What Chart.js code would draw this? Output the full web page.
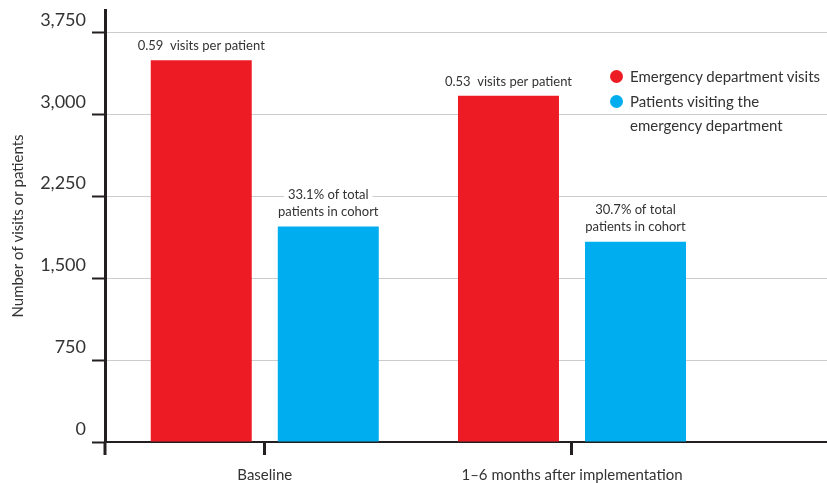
<!DOCTYPE html>
<html>
<head>
<meta charset="utf-8">
<script src="https://cdn.jsdelivr.net/npm/chart.js@4"></script>
<style>
  body { margin: 0; background: #fff; }
  .wrap { position: relative; width: 827px; height: 483px; }
  .legend { position: absolute; left: 608px; top: 64px; font: 15px Lato, sans-serif; color: #333; line-height: 24.5px; white-space: nowrap; }
  .legend .item { position: relative; padding-left: 22px; }
  .legend .dot { position: absolute; left: 2px; top: 6px; width: 13px; height: 13px; border-radius: 50%; }
</style>
</head>
<body>
<div class="wrap">
  <canvas id="chart" width="827" height="483"></canvas>
  <div class="legend" id="legend"></div>
</div>
<script>
const categories = ['Baseline', '1–6 months after implementation'];
const edVisits = [3500, 3175];
const edPatients = [1975, 1835];
const visitNotes = ['0.59  visits per patient', '0.53  visits per patient'];
const patientNotes = [['33.1% of total', 'patients in cohort'], ['30.7% of total', 'patients in cohort']];
const seriesNames = ['Emergency department visits', ['Patients visiting the', 'emergency department']];
const yTicks = [0, 750, 1500, 2250, 3000, 3750];

const RED = '#ed1c24';
const BLUE = '#00aeef';
const INK = '#231f20';
const FONT = 'Lato, sans-serif';

// labels above the bars, plus the little stub of the y axis below the x axis
const notesPlugin = {
  id: 'notes',
  afterDatasetsDraw(chart) {
    const ctx = chart.ctx;
    ctx.save();
    ctx.font = '13px ' + FONT;
    ctx.textAlign = 'center';
    ctx.textBaseline = 'middle';
    chart.getDatasetMeta(0).data.forEach((bar, i) => {
      ctx.fillStyle = '#333';
      ctx.fillText(visitNotes[i], bar.x, bar.y - 14);
    });
    chart.getDatasetMeta(1).data.forEach((bar, i) => {
      const lines = patientNotes[i];
      lines.forEach((line, j) => {
        const y = bar.y - 15 - (lines.length - 1 - j) * 17;
        const w = ctx.measureText(line).width;
        ctx.fillStyle = '#fff';
        ctx.fillRect(bar.x - w / 2 - 4, y - 8, w + 8, 16);
        ctx.fillStyle = '#333';
        ctx.fillText(line, bar.x, y);
      });
    });
    const a = chart.chartArea;
    ctx.strokeStyle = INK;
    ctx.lineWidth = 3;
    ctx.beginPath();
    ctx.moveTo(a.left, a.bottom);
    ctx.lineTo(a.left, a.bottom + 13);
    ctx.stroke();
    ctx.restore();
  }
};

const chart = new Chart(document.getElementById('chart'), {
  type: 'bar',
  data: {
    datasets: [
      {
        label: seriesNames[0],
        data: edVisits.map((v, i) => ({ x: i, y: v })),
        backgroundColor: RED
      },
      {
        label: seriesNames[1],
        data: edPatients.map((v, i) => ({ x: i, y: v })),
        backgroundColor: BLUE
      }
    ]
  },
  options: {
    responsive: false,
    animation: false,
    layout: { padding: { top: 10, right: 0, left: 0, bottom: 0 } },
    categoryPercentage: 0.827,
    barPercentage: 0.795,
    plugins: { legend: { display: false }, tooltip: { enabled: false } },
    scales: {
      x: {
        type: 'linear',
        offset: false,
        min: -0.52,
        max: 1.83,
        afterBuildTicks: s => { s.ticks = categories.map((c, i) => ({ value: i })); },
        afterFit: s => { s.height = 41; s.paddingLeft = 0; s.paddingRight = 0; },
        ticks: {
          autoSkip: false,
          maxRotation: 0,
          padding: 11,
          color: '#333',
          font: { family: FONT, size: 15 },
          callback: v => categories[v]
        },
        grid: { offset: false, drawOnChartArea: false, tickLength: 13, tickColor: INK, tickWidth: 3 },
        border: { color: INK, width: 2 }
      },
      y: {
        min: 0,
        max: 3960,
        afterBuildTicks: s => { s.ticks = yTicks.map(v => ({ value: v })); },
        afterFit: s => { s.width = 105; s.paddingTop = 0; s.paddingBottom = 0; },
        ticks: {
          padding: 6,
          labelOffset: -13,
          color: '#333',
          font: { family: FONT, size: 18 },
          callback: v => v.toLocaleString('en-US')
        },
        grid: { color: '#cccccc', lineWidth: 1, tickLength: 13, tickColor: INK, tickWidth: 2 },
        border: { color: INK, width: 3 },
        title: {
          display: true,
          text: 'Number of visits or patients',
          color: '#333',
          font: { family: FONT, size: 15 },
          padding: { top: 9, bottom: 0 }
        }
      }
    }
  },
  plugins: [notesPlugin]
});

// legend built from the datasets
document.getElementById('legend').innerHTML = chart.data.datasets.map(ds => {
  const text = [].concat(ds.label).join('<br>');
  return '<div class="item"><span class="dot" style="background:' + ds.backgroundColor + '"></span>' + text + '</div>';
}).join('');
</script>
</body>
</html>
